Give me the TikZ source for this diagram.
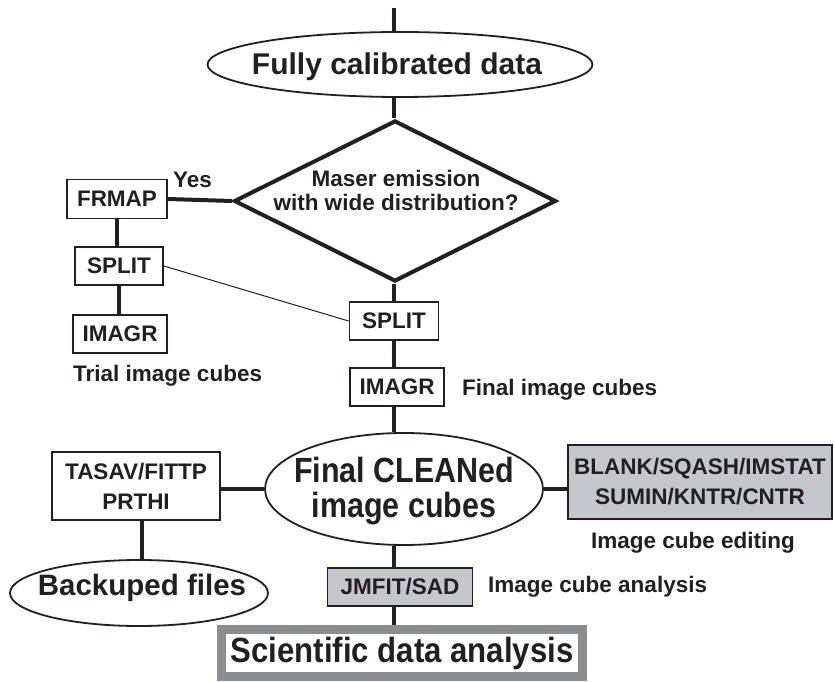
\documentclass[tikz,border=0pt]{standalone}
\usepackage{fontspec}
\setmainfont{Liberation Sans}
\newfontfamily\condfont[FakeStretch=0.87]{Liberation Sans}
\newfontfamily\semicondfont[FakeStretch=0.89]{Liberation Sans}
\usetikzlibrary{shapes.geometric}
\pgfdeclarelayer{background}
\pgfsetlayers{background,main}
\definecolor{ink}{RGB}{35,31,32}
\definecolor{boxgray}{RGB}{198,199,202}
\definecolor{framegray}{RGB}{140,141,144}
\tikzset{
  conn/.style={draw=ink, line width=3.2pt},
  thinconn/.style={draw=ink, line width=1pt},
  procbox/.style={draw=ink, line width=1.8pt, rectangle, inner sep=0pt, fill=white,
    text=ink, font=\fontsize{22.5}{30}\selectfont\bfseries, align=center},
  graybox/.style={procbox, fill=boxgray},
  oval/.style={draw=ink, line width=1.8pt, ellipse, inner sep=0pt, fill=white},
  bigtxt/.style={text=ink, inner sep=0pt, align=center},
  lbl/.style={text=ink, font=\fontsize{22.5}{27}\selectfont\bfseries, inner sep=0pt, anchor=base west},
}
\begin{document}
\begin{tikzpicture}[x=1pt,y=-1pt]
\useasboundingbox (0,0) rectangle (835,682);

% top flow
\coordinate (top) at (394,8);
\node[oval, minimum width=385pt, minimum height=65pt] (fcd) at (400,64.5) {};
\node[bigtxt, anchor=base, font=\fontsize{30}{36}\selectfont\bfseries] (fcdt) at (397,75) {Fully calibrated data};

\node[diamond, draw=ink, line width=4pt, fill=white, minimum width=322pt, minimum height=161pt,
      inner sep=0pt, shape aspect=2] (q) at (395,201) {};
\node[bigtxt, font=\fontsize{22.5}{24}\selectfont\bfseries] (qt) at (396,190)
  {Maser emission\\with wide distribution?};

\node[procbox, minimum width=89pt, minimum height=38pt] (s2) at (394,321) {SPLIT};
\node[procbox, minimum width=94pt, minimum height=38pt] (i2) at (397,387) {IMAGR};
\node[lbl] (fic) at (462,395) {Final image cubes};

\node[oval, minimum width=278pt, minimum height=112pt] (e2) at (404,489) {};
\node[bigtxt, font=\fontsize{35}{35}\condfont\bfseries] (e2t) at (404,491.5)
  {Final CLEANed\\image cubes};

% left branch
\node[procbox, minimum width=100pt, minimum height=39pt] (fr) at (117,199) {FRMAP};
\node[lbl] (yes) at (173,187) {Yes};
\node[procbox, minimum width=88pt, minimum height=38pt] (s1) at (119,266) {SPLIT};
\node[procbox, minimum width=94pt, minimum height=38pt] (i1) at (120,334) {IMAGR};
\node[lbl] (tic) at (73,381) {Trial image cubes};

% backup
\node[procbox, minimum width=168pt, minimum height=68pt] (ta) at (136,486) {TASAV/FITTP\\PRTHI};
\node[oval, minimum width=258pt, minimum height=66pt] (bk) at (139,593) {};
\node[bigtxt, anchor=base, font=\fontsize{29.5}{34}\selectfont\bfseries] (bkt) at (142,595) {Backuped files};
\coordinate (bkx) at (142,0);

% editing
\node[graybox, minimum width=264pt, minimum height=74pt] (bl) at (700,482)
  {BLANK/SQASH/IMSTAT\\SUMIN/KNTR/CNTR};
\node[lbl] (ice) at (591,548) {Image cube editing};

% analysis
\node[graybox, minimum width=145pt, minimum height=38pt] (jm) at (400,587) {JMFIT/SAD};
\node[lbl] (ica) at (488,592) {Image cube analysis};

\node[draw=framegray, line width=9pt, fill=white, minimum width=361pt, minimum height=47pt,
      inner sep=0pt, text=ink, font=\fontsize{35}{36}\semicondfont\bfseries] (sci) at (402,653)
  {Scientific data analysis};

\begin{pgfonlayer}{background}
  \draw[conn] (top) -- (top |- fcd.north);
  \draw[conn] (fcd.south -| s2.north) -- (s2.north |- q.north);
  \draw[conn] (s2.north |- q.south) -- (s2.north);
  \draw[conn] (s2.south) -- (s2.south |- i2.north);
  \draw[conn] (s2.south |- i2.south) -- (s2.south |- e2.north);
  \draw[conn] (s2.south |- e2.south) -- (s2.south |- jm.north);
  \draw[conn] (s2.south |- jm.south) -- (s2.south |- sci.north);
  \draw[conn, line width=4pt] (fr.east) -- (q.west);
  \draw[conn] (fr.south) -- (fr.south |- s1.north);
  \draw[conn] (s1.south) -- (s1.south |- i1.north);
  \draw[thinconn] (s1.east) -- (s2.west);
  \draw[conn] (e2.west) -- (e2.west -| ta.east);
  \draw[conn] (e2.east) -- (e2.east -| bl.west);
  \draw[conn] (ta.south -| bkx) -- (bkx |- bk.north);
\end{pgfonlayer}
\end{tikzpicture}
\end{document}
